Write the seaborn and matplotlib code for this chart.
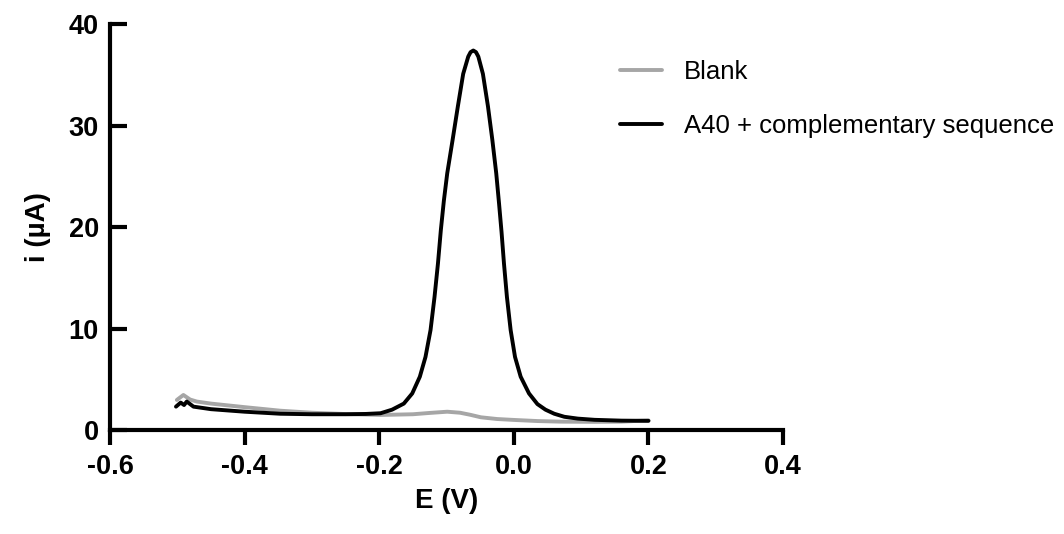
import numpy as np
import pandas as pd
import matplotlib
matplotlib.use("Agg")
import matplotlib.pyplot as plt
import seaborn as sns

# --- data ---
blank_E = [-0.5007, -0.491, -0.481, -0.471, -0.450, -0.400, -0.347, -0.300, -0.250,
           -0.198, -0.150, -0.125, -0.099, -0.080, -0.065, -0.049, -0.025, 0.000,
           0.035, 0.070, 0.120, 0.160, 0.200]
blank_i = [2.96, 3.45, 3.0, 2.8, 2.6, 2.25, 1.9, 1.7, 1.57,
           1.48, 1.55, 1.68, 1.8, 1.7, 1.5, 1.25, 1.08, 0.99,
           0.88, 0.82, 0.8, 0.82, 0.95]

a40_E = [-0.502, -0.495, -0.490, -0.486, -0.476, -0.450, -0.400, -0.347, -0.300,
         -0.250, -0.220, -0.198, -0.181, -0.1635, -0.151, -0.1397, -0.1313, -0.1238,
         -0.1179, -0.1128, -0.1085, -0.104, -0.099, -0.091, -0.0832, -0.0753, -0.0678,
         -0.0643, -0.0603, -0.0563, -0.0528, -0.046, -0.0385, -0.032, -0.0262, -0.022,
         -0.0183, -0.0147, -0.0103, -0.0048, 0.0017, 0.0101, 0.0225, 0.035, 0.047,
         0.060, 0.075, 0.095, 0.120, 0.160, 0.200]
a40_i = [2.3, 2.7, 2.46, 2.8, 2.3, 2.05, 1.8, 1.6, 1.55,
         1.55, 1.58, 1.65, 2.0, 2.6, 3.6, 5.25, 7.2, 9.85,
         13.1, 16.4, 19.7, 22.6, 25.3, 28.6, 31.9, 35.1, 36.8,
         37.24, 37.4, 37.24, 36.8, 35.1, 31.9, 28.6, 25.3, 22.3,
         19.5, 16.4, 13.1, 9.85, 7.2, 5.25, 3.6, 2.55, 2.0,
         1.6, 1.3, 1.12, 1.0, 0.92, 0.9]

labels = ["Blank", "A40 + complementary sequence"]
colors = ["#a6a6a6", "#000000"]

df = pd.concat([
    pd.DataFrame({"E": blank_E, "i": blank_i, "sample": labels[0]}),
    pd.DataFrame({"E": a40_E, "i": a40_i, "sample": labels[1]}),
])

sns.set_style("ticks")
plt.rcParams['font.family'] = ['Liberation Sans', 'DejaVu Sans']
plt.rcParams['text.color'] = 'black'
plt.rcParams['axes.labelcolor'] = 'black'

fig = plt.figure(figsize=(10.64, 5.34), dpi=100)
ax = fig.add_axes([0.1034, 0.1948, 0.6326, 0.760])

sns.lineplot(data=df, x="E", y="i", hue="sample", hue_order=labels,
             palette=dict(zip(labels, colors)), sort=False, estimator=None,
             linewidth=2.8, ax=ax)
for line in ax.get_lines():
    line.set_solid_joinstyle("round")

ax.set_xlim(-0.6, 0.4)
ax.set_ylim(0, 40)
ax.set_xticks([-0.6, -0.4, -0.2, 0.0, 0.2, 0.4])
ax.set_xticklabels(["-0.6", "-0.4", "-0.2", "0.0", "0.2", "0.4"])
ax.set_yticks([0, 10, 20, 30, 40])

for side in ["top", "right"]:
    ax.spines[side].set_visible(False)
for side in ["left", "bottom"]:
    ax.spines[side].set_linewidth(3.0)
    ax.spines[side].set_color("black")

# Prism-style: x ticks point out, y ticks point in
ax.tick_params(axis="x", length=11, width=3.0, direction="out",
               labelsize=19.5, pad=6, colors="black")
ax.tick_params(axis="y", length=12.5, width=3.0, direction="in",
               labelsize=19.5, pad=8, colors="black")
for lbl in ax.get_xticklabels() + ax.get_yticklabels():
    lbl.set_fontweight("bold")

ax.set_xlabel("E (V)", fontsize=20, fontweight="bold", labelpad=6)
ax.set_ylabel("i (µA)", fontsize=20, fontweight="bold", labelpad=13)

leg = ax.legend(loc="upper left", bbox_to_anchor=(0.743, 0.938), frameon=False,
                fontsize=18.5, handlelength=1.6, handletextpad=0.86,
                labelspacing=1.19, borderaxespad=0)
for line in leg.get_lines():
    line.set_linewidth(2.8)

fig.savefig("out.png", dpi=100)
